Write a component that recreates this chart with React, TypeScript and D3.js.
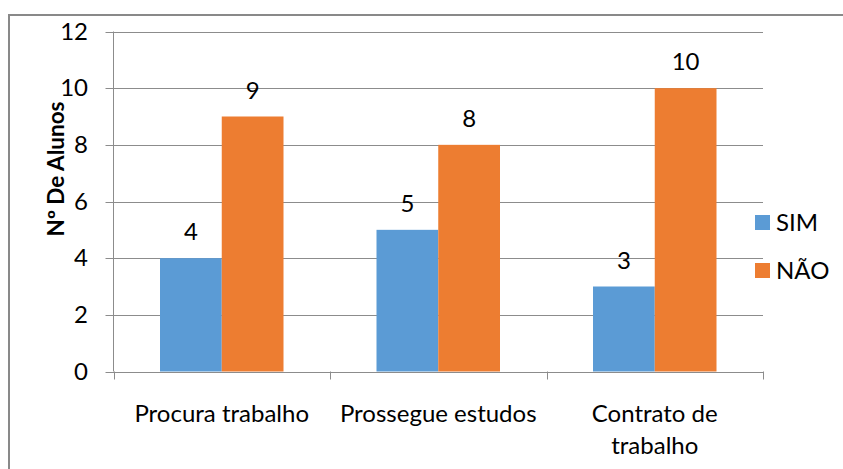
import React from "react";
import * as d3 from "d3";

const categories = ["Procura trabalho", "Prossegue estudos", "Contrato de trabalho"];
const categoryLines = [["Procura trabalho"], ["Prossegue estudos"], ["Contrato de", "trabalho"]];
const seriesNames = ["SIM", "NÃO"];
const simValues = [4, 5, 3];
const naoValues = [9, 8, 10];
const yTicks = [0, 2, 4, 6, 8, 10, 12];
const colors = ["#5B9BD5", "#ED7D31"];
const yTitle = "Nº De Alunos";

const W = 843;
const H = 469;
const FONT = "Lato, 'Open Sans', sans-serif";
const FS = 24;

export default function App() {
  const left = 113.5;
  const right = 763;
  const top = 31.5;
  const bottom = 371.5;
  const x0 = d3.scaleBand<string>().domain(categories).range([left, right]).paddingInner(0).paddingOuter(0);
  const y = d3.scaleLinear().domain([0, 12]).range([bottom, top]);
  const groupPad = 46.5;
  const x1 = d3
    .scaleBand<string>()
    .domain(seriesNames)
    .range([0, x0.bandwidth() - 2 * groupPad])
    .padding(0);
  const series = [simValues, naoValues];

  return (
    <svg
      width={W}
      height={H}
      style={{ position: "absolute", left: 0, top: 0, display: "block", background: "#fff" }}
      fontFamily={FONT}
    >
      <rect x={9} y={15} width={W + 20} height={H + 20} fill="#fff" stroke="#898989" strokeWidth={2} />
      {yTicks.map((t) => (
        <g key={t}>
          <line x1={left - 8} x2={right} y1={Math.round(y(t)) + 0.5} y2={Math.round(y(t)) + 0.5} stroke="#8c8c8c" strokeWidth={1} />
          <text x={88} y={y(t)} dy="0.34em" textAnchor="end" fontSize={FS} fill="#000">
            {t}
          </text>
        </g>
      ))}
      <line x1={left} x2={left} y1={top} y2={bottom} stroke="#8c8c8c" strokeWidth={1} />
      {[...categories.map((c) => x0(c)!), right].map((xv, i) => (
        <line key={i} x1={Math.round(xv) + 0.5} x2={Math.round(xv) + 0.5} y1={bottom} y2={bottom + 8} stroke="#8c8c8c" strokeWidth={1} />
      ))}
      {categories.map((c, ci) =>
        seriesNames.map((s, si) => {
          const v = series[si][ci];
          const bx = x0(c)! + groupPad + x1(s)!;
          const bw = x1.bandwidth();
          return (
            <g key={c + s}>
              <rect x={bx} y={y(v)} width={bw} height={y(0) - y(v)} fill={colors[si]} />
              <text x={bx + bw / 2} y={y(v) - 18} textAnchor="middle" fontSize={FS} fill="#000">
                {v}
              </text>
            </g>
          );
        })
      )}
      {categories.map((c, ci) => (
        <text key={c} x={x0(c)! + x0.bandwidth() / 2} y={421.5} textAnchor="middle" fontSize={FS} fill="#000">
          {categoryLines[ci].map((ln, li) => (
            <tspan key={li} x={x0(c)! + x0.bandwidth() / 2} dy={li === 0 ? 0 : 32.5}>
              {ln}
            </tspan>
          ))}
        </text>
      ))}
      <text
        transform={`translate(64,169) rotate(-90)`}
        textAnchor="middle"
        fontSize={22.5}
        fontWeight="bold"
        fill="#000"
      >
        {yTitle}
      </text>
      {seriesNames.map((s, si) => (
        <g key={s}>
          <rect x={755} y={215 + si * 48} width={15} height={15} fill={colors[si]} />
          <text x={776} y={230.5 + si * 48} fontSize={FS} fill="#000">
            {s}
          </text>
        </g>
      ))}
    </svg>
  );
}
